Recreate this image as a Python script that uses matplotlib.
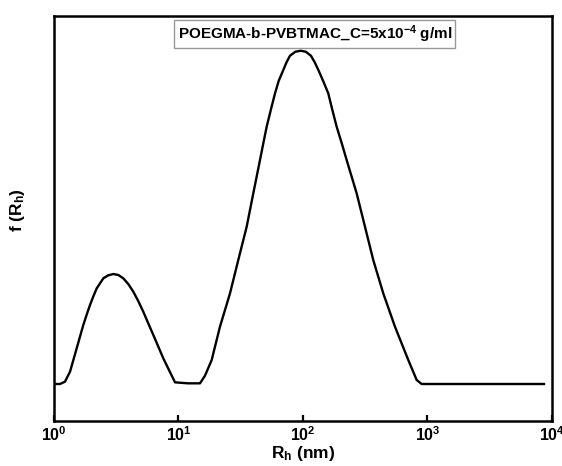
"""DLS size distribution f(Rh) for POEGMA-b-PVBTMAC."""

import math

import matplotlib

matplotlib.use("Agg")
import matplotlib.pyplot as plt
from matplotlib.ticker import FixedLocator, FuncFormatter, NullLocator


# hydrodynamic radius (nm) and normalised distribution
RH_NM = [
    1.0, 1.117, 1.225, 1.345, 1.521, 1.719, 1.83, 1.946, 2.07, 2.203,
    2.489, 2.72, 2.995, 3.29, 3.603, 3.95, 4.335, 4.75, 5.214, 5.70,
    6.281, 7.549, 9.376, 11.92, 14.88, 16.33, 18.48, 21.54, 25.93, 30.22,
    35.30, 39.89, 45.15, 48.0, 51.10, 55.2, 59.60, 63.9, 69.47, 73.9,
    78.62, 86.8, 95.83, 105.4, 115.9, 124.0, 133.0, 145.0, 159.7, 172.0,
    186.5, 205.0, 224.4, 270.0, 314.8, 367.0, 441.6, 548.3, 701.3, 819.1,
    898.4, 2000.0, 5000.0, 8630.0,
]
F_RH = [
    0.0, 0.0, 0.007, 0.037, 0.107, 0.177, 0.208, 0.237, 0.263, 0.287,
    0.317, 0.326, 0.330, 0.327, 0.317, 0.300, 0.277, 0.249, 0.217, 0.183,
    0.147, 0.077, 0.005, 0.002, 0.002, 0.025, 0.072, 0.172, 0.272, 0.372,
    0.472, 0.572, 0.672, 0.722, 0.772, 0.823, 0.872, 0.910, 0.942, 0.966,
    0.985, 0.997, 1.0, 0.997, 0.985, 0.966, 0.942, 0.910, 0.872, 0.823,
    0.772, 0.722, 0.672, 0.572, 0.472, 0.372, 0.272, 0.172, 0.072, 0.012,
    0.0, 0.0, 0.0, 0.0,
]
X_TICKS = [1, 10, 100, 1000, 10000]
SAMPLE_LABEL = r"POEGMA-b-PVBTMAC_C=5x10$^{\mathbf{-4}}$ g/ml"


def decade_label(value, _pos):
    return r"$\mathbf{10^{%d}}$" % round(math.log10(value))


def plot_distribution(output_path="out.png"):
    plt.rcParams["font.family"] = ["Liberation Sans", "DejaVu Sans"]
    plt.rcParams["font.weight"] = "bold"
    plt.rcParams["mathtext.fontset"] = "custom"
    plt.rcParams["mathtext.rm"] = "Liberation Sans:bold"
    plt.rcParams["mathtext.bf"] = "Liberation Sans:bold"
    plt.rcParams["mathtext.it"] = "Liberation Sans:bold:italic"

    fig = plt.figure(figsize=(5.62, 4.66), dpi=100)
    ax = fig.add_axes([0.0961, 0.0966, 0.886, 0.8696])

    ax.plot(RH_NM, F_RH, color="black", lw=1.7, solid_joinstyle="round")
    ax.set_xscale("log")
    ax.set_xlim(1, 1e4)
    ax.set_ylim(-0.111, 1.105)

    ax.xaxis.set_major_locator(FixedLocator(X_TICKS))
    ax.xaxis.set_minor_locator(NullLocator())
    ax.xaxis.set_major_formatter(FuncFormatter(decade_label))
    ax.set_yticks([])
    ax.tick_params(axis="x", which="major", direction="in", length=4.5,
                   width=1.6, labelsize=11.5, pad=3)

    for spine in ax.spines.values():
        spine.set_linewidth(1.8)

    ax.set_xlabel(r"R$_\mathbf{h}$ (nm)", fontsize=12.5, fontweight="bold",
                  labelpad=0)
    ax.set_ylabel(r"f (R$_\mathbf{h}$)", fontsize=12.5, fontweight="bold")
    ax.yaxis.set_label_coords(-0.055, 0.52)

    ax.text(0.5235, 0.955, SAMPLE_LABEL, transform=ax.transAxes,
            ha="center", va="center", fontsize=11, fontweight="bold",
            bbox=dict(boxstyle="square,pad=0.22", fc="white", ec="#999999",
                      lw=1.0))

    fig.savefig(output_path, dpi=100)
    plt.close(fig)


def main():
    plot_distribution()


if __name__ == "__main__":
    main()
